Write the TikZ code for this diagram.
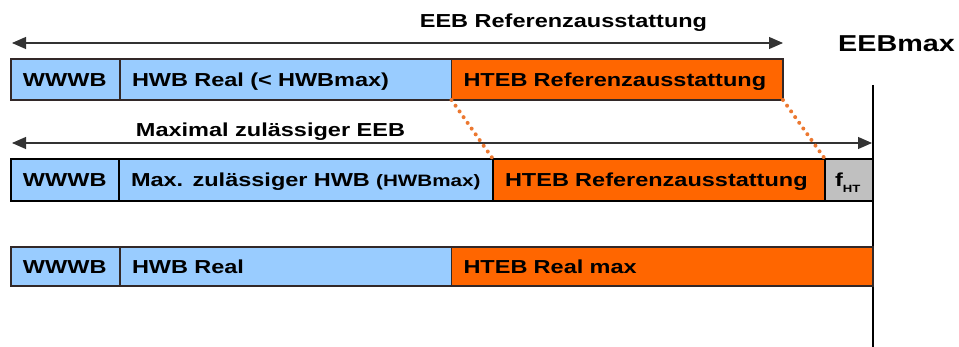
\documentclass[tikz,border=0pt]{standalone}
\usepackage{fontspec}
\setmainfont{Liberation Sans}[FakeStretch=1.25]
\usetikzlibrary{arrows.meta}
\definecolor{hwbblue}{RGB}{153,204,255}
\definecolor{htorange}{RGB}{255,102,0}
\definecolor{fgray}{RGB}{192,192,192}
\definecolor{dotorange}{RGB}{236,120,48}
\definecolor{thinframe}{RGB}{50,40,40}

\begin{document}
\begin{tikzpicture}[x=1pt,y=-1pt,
	every node/.style={font=\fontsize{18.8}{20}\selectfont\bfseries},
	cell/.style={anchor=west,outer sep=0pt,inner xsep=12pt,inner ysep=0pt,align=left,text height=13.45pt,text depth=0pt},
	rowcell/.style={cell,draw=thinframe,line width=1.2pt},
	boldcell/.style={cell,draw=black,line width=2.5pt,minimum height=42pt},
	spanarrow/.style={{Triangle[length=14pt,width=12pt]}-{Triangle[length=14pt,width=12pt]},draw=black!80,line width=1.1pt},
	dotlink/.style={draw=dotorange,line width=4pt,line cap=round,dash pattern=on 0pt off 7pt}]
		\useasboundingbox (0,0) rectangle (959,347);
		\node[anchor=base,inner sep=0pt](refLabel) at (563.5,28) {EEB Referenzausstattung};
		\node[anchor=base,inner sep=0pt](maxLabel) at (270.5,137) {Maximal zulässiger EEB};
		\node[anchor=base west,inner sep=0pt,font=\fontsize{23}{25}\selectfont\bfseries](eebmax) at (838,52) {EEBmax};
		\coordinate (refL) at (12,43);
		\coordinate (refR) at (783,43);
		\coordinate (maxL) at (12,143);
		\coordinate (maxR) at (872,143);
		\coordinate (limTop) at (873,85);
		\coordinate (limBot) at (873,347);
		\draw [spanarrow] (refL) -- (refR);
		\draw [spanarrow] (maxL) -- (maxR);
		\draw [line width=2.5pt] (limTop) -- (limBot);
		\node[rowcell,fill=hwbblue,minimum height=41pt,text width=85pt](wwwbA) at (11,79.5) {WWWB};
		\node[rowcell,fill=hwbblue,minimum height=41pt,text width=307.5pt](hwbA) at (120,79.5) {HWB Real (< HWBmax)};
		\node[rowcell,fill=htorange,minimum height=41pt,text width=307.5pt](htebA) at (451.5,79.5) {HTEB Referenzausstattung};
		\node[boldcell,fill=hwbblue,text width=84pt](wwwbB) at (11,180) {WWWB};
		\node[boldcell,fill=hwbblue,text width=350pt](hwbB) at (119,180) {\mbox{Max. zulässiger HWB {\fontsize{16.5}{18}\selectfont(HWBmax)}}};
		\node[boldcell,fill=htorange,text width=308pt](htebB) at (493,180) {HTEB Referenzausstattung};
		\node[boldcell,fill=fgray,inner xsep=10pt,text width=28pt](fht) at (825,180) {f\raisebox{-6pt}{\fontsize{10.5}{11}\selectfont HT}};
		\node[rowcell,fill=hwbblue,minimum height=39pt,text width=85pt](wwwbC) at (11,266.5) {WWWB};
		\node[rowcell,fill=hwbblue,minimum height=39pt,text width=307.5pt](hwbC) at (120,266.5) {HWB Real};
		\node[rowcell,fill=htorange,minimum height=39pt,text width=397.5pt](htebC) at (451.5,266.5) {HTEB Real max};
		\draw [dotlink] (htebA.south west) -- (htebB.north west);
		\draw [dotlink] (htebA.south east) -- (htebB.north east);
	\end{tikzpicture}
\end{document}
